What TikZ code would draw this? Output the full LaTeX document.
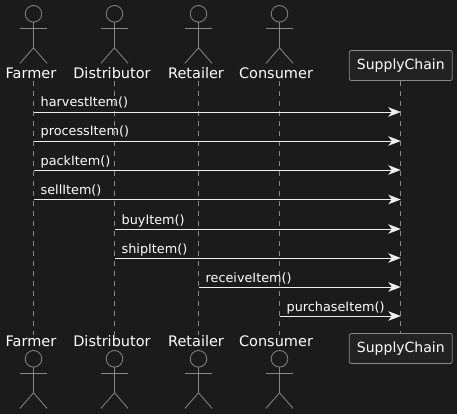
\documentclass[tikz,border=0pt]{standalone}
\usepackage{fontspec}
\setmainfont{DejaVu Sans}
\usepackage{tikz}
\usetikzlibrary{arrows.meta}
\definecolor{bgcol}{HTML}{1B1B1B}
\definecolor{boxcol}{HTML}{222222}
\definecolor{linecol}{HTML}{888888}
\definecolor{msgcol}{HTML}{EEEEEE}
\tikzset{
  x=1pt, y=-1pt,
  actorlabel/.style={text=white, inner sep=0pt, font=\fontsize{14.5}{16}\selectfont},
  chainbox/.style={draw=linecol, fill=boxcol, rounded corners=2pt, text=white, inner sep=0pt,
    minimum width=103pt, minimum height=30pt, line width=0.8pt, font=\fontsize{14}{16}\selectfont},
  lifeline/.style={draw=linecol, line width=0.8pt, dash pattern=on 5pt off 5pt},
  stick/.style={draw=linecol, line width=0.8pt},
  msg/.style={draw=msgcol, line width=0.9pt, -{Stealth[length=12.5pt,width=9.5pt,inset=3.5pt,fill=msgcol]}},
  msglabel/.style={text=white, inner sep=0pt, anchor=base west, font=\fontsize{12.8}{15}\selectfont},
}
\newcommand{\stickman}[2]{% x, head centre y
  \draw[stick] (#1,#2) circle[radius=8.3pt];
  \draw[stick] (#1,#2+8.3) -- (#1,#2+34) -- (#1-13.5,#2+49.5);
  \draw[stick] (#1,#2+34) -- (#1+13.5,#2+49.5);
  \draw[stick] (#1-13.5,#2+15) -- (#1+13.5,#2+15);
}
\begin{document}
\begin{tikzpicture}
  \useasboundingbox[fill=bgcol] (0,0) rectangle (457,414);
  % lifelines first, boxes and labels sit on top
  \coordinate (farmerA) at (33.5,81);
  \coordinate (farmerB) at (33.5,335);
  \coordinate (distribA) at (114.5,81);
  \coordinate (distribB) at (114.5,335);
  \coordinate (retailA) at (198.5,81);
  \coordinate (retailB) at (198.5,335);
  \coordinate (consA) at (279.5,81);
  \coordinate (consB) at (279.5,335);
  \foreach \who in {farmer,distrib,retail,cons}
    \draw[lifeline] (\who A) -- (\who B);
  \node[chainbox] (chainTop) at (400.8,65.5) {SupplyChain};
  \node[chainbox] (chainBot) at (400.8,348.5) {SupplyChain};
  \draw[lifeline] (chainTop) -- (chainBot);
  \node[actorlabel] (farmerTop) at (31,73) {Farmer};
  \node[actorlabel] (distribTop) at (112,73) {Distributor};
  \node[actorlabel] (retailTop) at (196,73) {Retailer};
  \node[actorlabel] (consTop) at (276,73) {Consumer};
  \node[actorlabel] (farmerBot) at (31,341.5) {Farmer};
  \node[actorlabel] (distribBot) at (112,341.5) {Distributor};
  \node[actorlabel] (retailBot) at (196,341.5) {Retailer};
  \node[actorlabel] (consBot) at (276,341.5) {Consumer};
  \foreach \x in {33.5,114.5,198.5,279.5} {
    \stickman{\x}{13.8}
    \stickman{\x}{358.8}
  }
  % messages
  \foreach \name/\src/\ypos/\txt in {
    harvest/farmer/112/harvestItem(),
    process/farmer/141/processItem(),
    pack/farmer/170/packItem(),
    sell/farmer/199.5/sellItem(),
    buy/distrib/229/buyItem(),
    ship/distrib/258/shipItem(),
    receive/retail/287/receiveItem(),
    purchase/cons/316/purchaseItem()} {
    \coordinate (\name S) at (\src A |- 0,\ypos);
    \coordinate (\name E) at (chainTop |- 0,\ypos);
    \draw[msg] (\name S) -- (\name E);
    \node[msglabel] (\name L) at ([xshift=7pt,yshift=5pt]\name S) {\txt};
  }
\end{tikzpicture}
\end{document}
